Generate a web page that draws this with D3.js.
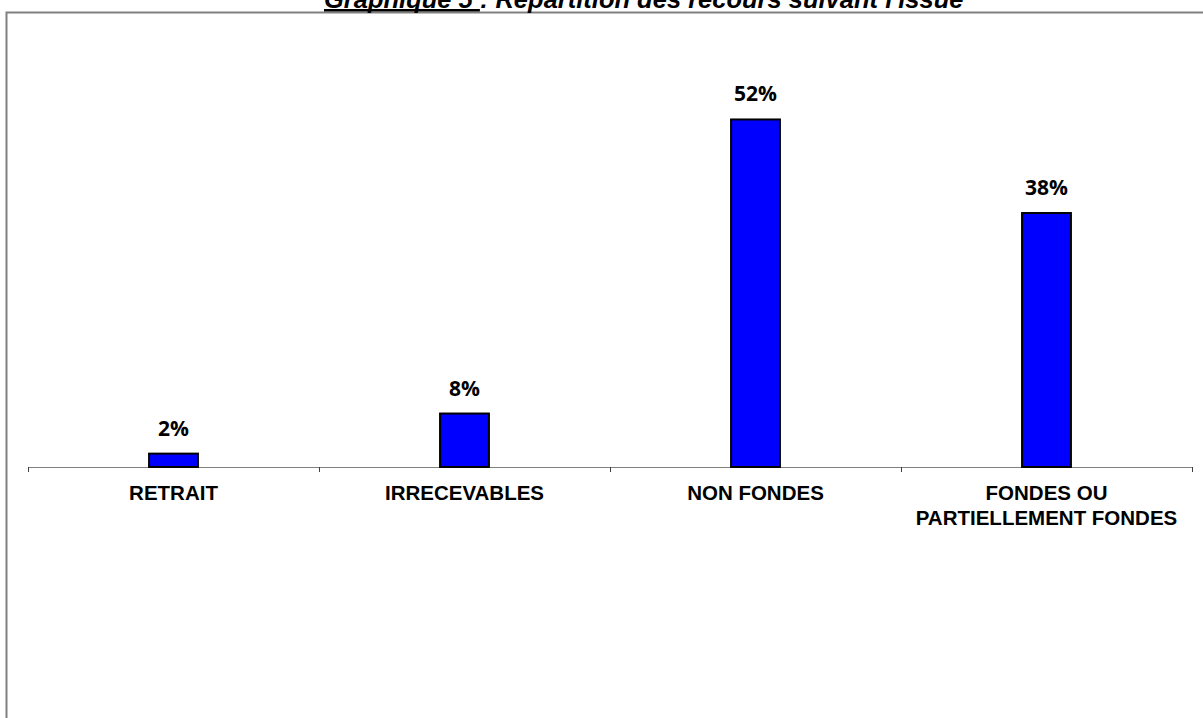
<!DOCTYPE html>
<html>
<head>
<meta charset="utf-8">
<script src="https://cdn.jsdelivr.net/npm/d3@7"></script>
<style>
  html, body { margin: 0; padding: 0; background: #fff; overflow: hidden; }
</style>
</head>
<body>
<div id="chart"></div>
<script>
const categories = [`RETRAIT`, `IRRECEVABLES`, `NON FONDES`, `FONDES OU PARTIELLEMENT FONDES`];
const categoryLines = [[`RETRAIT`], [`IRRECEVABLES`], [`NON FONDES`], [`FONDES OU`, `PARTIELLEMENT FONDES`]];
const values = [2, 8, 52, 38];
const titleUnderlined = `Graphique 5 `;
const titleRest = `: Répartition des recours suivant l'issue`;

const width = 1203;
const height = 718;
const axisY = 467;

const svg = d3
  .select(`#chart`)
  .append(`svg`)
  .attr(`width`, width)
  .attr(`height`, height);

// frame of the chart area (runs off the right and bottom edges)
svg
  .append(`rect`)
  .attr(`x`, 6.5)
  .attr(`y`, 12.5)
  .attr(`width`, 1400)
  .attr(`height`, 900)
  .attr(`fill`, `none`)
  .attr(`stroke`, `#808080`)
  .attr(`stroke-width`, 2);

// title, cut at the top like in the source
const title = svg
  .append(`text`)
  .attr(`x`, 324)
  .attr(`y`, 8)
  .style(`font-family`, `"Liberation Sans", Arial, sans-serif`)
  .style(`font-weight`, `bold`)
  .style(`font-style`, `italic`)
  .style(`font-size`, `25.5px`)
  .attr(`fill`, `#000`);
const under = title.append(`tspan`).text(titleUnderlined);
title.append(`tspan`).text(titleRest);
const uw = under.node().getComputedTextLength();
svg
  .append(`rect`)
  .attr(`x`, 324)
  .attr(`y`, 9)
  .attr(`width`, uw)
  .attr(`height`, 2.5)
  .attr(`fill`, `#000`);

const xBand = d3.scaleBand().domain(categories).range([28, 1192]).padding(0);
const xBar = d3
  .scaleBand()
  .domain(categories)
  .range([28, 1192])
  .paddingInner(0.832)
  .paddingOuter(0.416);
const y = d3.scaleLinear().domain([0, 60]).range([axisY, 66]);

// category axis
svg
  .append(`line`)
  .attr(`x1`, 28)
  .attr(`x2`, 1192)
  .attr(`y1`, axisY + 0.5)
  .attr(`y2`, axisY + 0.5)
  .attr(`stroke`, `#808080`)
  .attr(`stroke-width`, 1.2);

const tickXs = categories.map((c) => xBand(c)).concat([xBand.range()[1]]);
svg
  .selectAll(`line.tick`)
  .data(tickXs)
  .enter()
  .append(`line`)
  .attr(`class`, `tick`)
  .attr(`x1`, (d) => d + 0.5)
  .attr(`x2`, (d) => d + 0.5)
  .attr(`y1`, axisY)
  .attr(`y2`, axisY + 5)
  .attr(`stroke`, `#404040`)
  .attr(`stroke-width`, 1);

// bars
svg
  .selectAll(`rect.bar`)
  .data(values)
  .enter()
  .append(`rect`)
  .attr(`class`, `bar`)
  .attr(`x`, (d, i) => xBar(categories[i]))
  .attr(`y`, (d) => y(d))
  .attr(`width`, xBar.bandwidth())
  .attr(`height`, (d) => y(0) - y(d))
  .attr(`fill`, `#0000ff`)
  .attr(`stroke`, `#000`)
  .attr(`stroke-width`, 2);

// value labels
svg
  .selectAll(`text.value`)
  .data(values)
  .enter()
  .append(`text`)
  .attr(`class`, `value`)
  .attr(`x`, (d, i) => xBand(categories[i]) + xBand.bandwidth() / 2)
  .attr(`y`, (d) => y(d) - 18)
  .attr(`text-anchor`, `middle`)
  .style(`font-family`, `"Open Sans", "Noto Sans", sans-serif`)
  .style(`font-weight`, `bold`)
  .style(`font-size`, `21px`)
  .attr(`fill`, `#000`)
  .text((d) => `${d}%`);

// category labels
const labels = svg
  .selectAll(`text.cat`)
  .data(categoryLines)
  .enter()
  .append(`text`)
  .attr(`class`, `cat`)
  .attr(`text-anchor`, `middle`)
  .style(`font-family`, `"Liberation Sans", Arial, sans-serif`)
  .style(`font-weight`, `bold`)
  .style(`font-size`, `20.5px`)
  .attr(`fill`, `#000`);

labels
  .selectAll(`tspan`)
  .data((d, i) => d.map((line) => ({ line, i })))
  .enter()
  .append(`tspan`)
  .attr(`x`, (d) => xBand(categories[d.i]) + xBand.bandwidth() / 2)
  .attr(`y`, (d, j) => 500 + j * 25)
  .text((d) => d.line);
</script>
</body>
</html>
